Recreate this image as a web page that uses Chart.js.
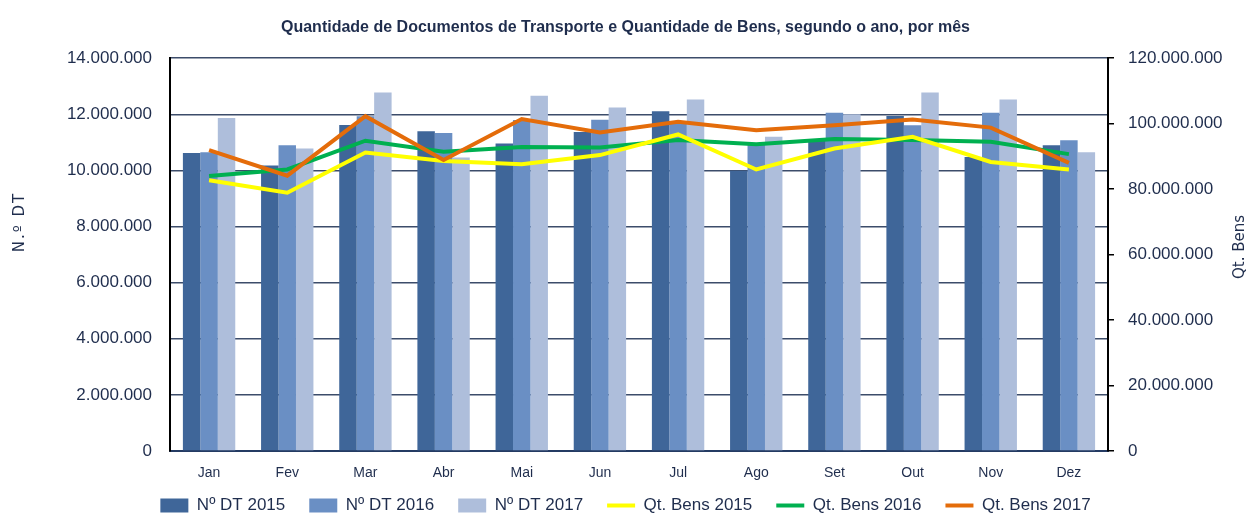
<!DOCTYPE html>
<html>
<head>
<meta charset="utf-8">
<script src="https://cdn.jsdelivr.net/npm/chart.js@4.4.0/dist/chart.umd.min.js"></script>
<style>
  html, body { margin: 0; padding: 0; background: #fff; }
  #wrap { width: 1251px; height: 516px; position: relative; }
</style>
</head>
<body>
<div id="wrap"><canvas id="dtChart"></canvas></div>
<script>
const months = ['Jan', 'Fev', 'Mar', 'Abr', 'Mai', 'Jun', 'Jul', 'Ago', 'Set', 'Out', 'Nov', 'Dez'];

// Nº DT (left axis)
const dt2015 = [10620000, 10180000, 11620000, 11400000, 10960000, 11370000, 12110000, 9990000, 11100000, 11940000, 10480000, 10900000];
const dt2016 = [10650000, 10900000, 11930000, 11330000, 11800000, 11810000, 11700000, 10960000, 12060000, 11610000, 12060000, 11080000];
const dt2017 = [11870000, 10780000, 12780000, 10460000, 12660000, 12240000, 12530000, 11200000, 12000000, 12780000, 12530000, 10650000];

// Qt. Bens (right axis)
const bens2015 = [82700000, 78900000, 91200000, 88600000, 87600000, 90400000, 96700000, 86000000, 92400000, 96000000, 88300000, 86000000];
const bens2016 = [84000000, 86000000, 94800000, 91400000, 92900000, 92700000, 95000000, 93700000, 95300000, 95000000, 94500000, 90700000];
const bens2017 = [91900000, 84100000, 102300000, 88900000, 101400000, 97300000, 100600000, 98000000, 99500000, 101300000, 98800000, 88000000];

const leftTicks = [0, 2000000, 4000000, 6000000, 8000000, 10000000, 12000000, 14000000];
const rightTicks = [0, 20000000, 40000000, 60000000, 80000000, 100000000, 120000000];

const txtColor = '#1f2d4d';
const font = '"Liberation Sans", Arial, sans-serif';

function fmt(v) {
  return v.toString().replace(/\B(?=(\d{3})+(?!\d))/g, '.');
}

// axis titles drawn by hand (right one reads bottom-to-top like the original)
const axisTitles = {
  id: 'axisTitles',
  afterLayout(chart) {
    // pull the legend a bit closer to the axis
    chart.legend.top -= 8;
    chart.legend.bottom -= 8;
  },
  afterDraw(chart) {
    const ctx = chart.ctx;
    ctx.save();
    ctx.fillStyle = txtColor;
    ctx.textAlign = 'center';
    ctx.textBaseline = 'middle';
    ctx.font = '15px "DejaVu Sans", sans-serif';

    ctx.save();
    ctx.translate(20, 222);
    ctx.rotate(-Math.PI / 2);
    ctx.letterSpacing = '2px';
    ctx.fillText('N.º DT', 0, 0);
    ctx.restore();

    ctx.save();
    ctx.translate(1240, 247);
    ctx.rotate(-Math.PI / 2);
    ctx.fillText('Qt. Bens', 0, 0);
    ctx.restore();

    ctx.restore();
  }
};

const barOpts = { categoryPercentage: 0.67, barPercentage: 1.0, borderWidth: 0, yAxisID: 'y', order: 5 };
const lineOpts = { type: 'line', yAxisID: 'y1', borderWidth: 4, pointRadius: 0, tension: 0, fill: false };

new Chart('dtChart', {
  type: 'bar',
  data: {
    labels: months,
    datasets: [
      { ...barOpts, label: 'Nº DT 2015', data: dt2015, backgroundColor: '#3f6699' },
      { ...barOpts, label: 'Nº DT 2016', data: dt2016, backgroundColor: '#6a8fc4' },
      { ...barOpts, label: 'Nº DT 2017', data: dt2017, backgroundColor: '#aebedb' },
      { ...lineOpts, label: 'Qt. Bens 2015', data: bens2015, borderColor: '#ffff00', backgroundColor: '#ffff00', order: 2 },
      { ...lineOpts, label: 'Qt. Bens 2016', data: bens2016, borderColor: '#00b050', backgroundColor: '#00b050', order: 3 },
      { ...lineOpts, label: 'Qt. Bens 2017', data: bens2017, borderColor: '#e46c0a', backgroundColor: '#e46c0a', order: 1 }
    ]
  },
  options: {
    responsive: true,
    maintainAspectRatio: false,
    animation: false,
    layout: { padding: { left: 0, right: 0, top: 0, bottom: -16 } },
    plugins: {
      title: {
        display: true,
        text: 'Quantidade de Documentos de Transporte e Quantidade de Bens, segundo o ano, por mês',
        color: txtColor,
        font: { family: font, size: 16, weight: 'bold' },
        padding: { top: 18, bottom: 21 }
      },
      legend: {
        position: 'bottom',
        labels: {
          color: txtColor,
          font: { family: font, size: 17 },
          usePointStyle: true,
          pointStyleWidth: 28,
          boxHeight: 14,
          padding: 24,
          sort: (a, b) => a.datasetIndex - b.datasetIndex,
          generateLabels(chart) {
            const items = Chart.defaults.plugins.legend.labels.generateLabels(chart);
            items.forEach(it => {
              const ds = chart.data.datasets[it.datasetIndex];
              it.pointStyle = ds.type === 'line' ? 'line' : 'rect';
              it.lineWidth = ds.type === 'line' ? 4 : 0;
            });
            return items;
          }
        }
      },
      tooltip: { enabled: false }
    },
    scales: {
      x: {
        grid: { display: false, drawTicks: false },
        border: { color: '#243b63', width: 2 },
        ticks: { color: txtColor, font: { family: font, size: 14 }, padding: 14 },
        afterFit(s) { s.height = 30; }
      },
      y: {
        position: 'left',
        min: 0,
        max: 14000000,
        afterBuildTicks(s) { s.ticks = leftTicks.map(v => ({ value: v })); },
        grid: { color: '#3c4c6a', lineWidth: 1.6, drawTicks: false },
        border: { color: '#000', width: 2 },
        ticks: { color: txtColor, font: { family: font, size: 17 }, padding: 18, callback: v => fmt(v) },
        afterFit(s) { s.width = 170; }
      },
      y1: {
        position: 'right',
        min: 0,
        max: 120000000,
        afterBuildTicks(s) { s.ticks = rightTicks.map(v => ({ value: v })); },
        grid: { drawOnChartArea: false, color: '#000', tickLength: 6, lineWidth: 1.5 },
        border: { color: '#000', width: 2 },
        ticks: { color: txtColor, font: { family: font, size: 17 }, padding: 14, callback: v => fmt(v) },
        afterFit(s) { s.width = 143; }
      }
    }
  },
  plugins: [axisTitles]
});
</script>
</body>
</html>
